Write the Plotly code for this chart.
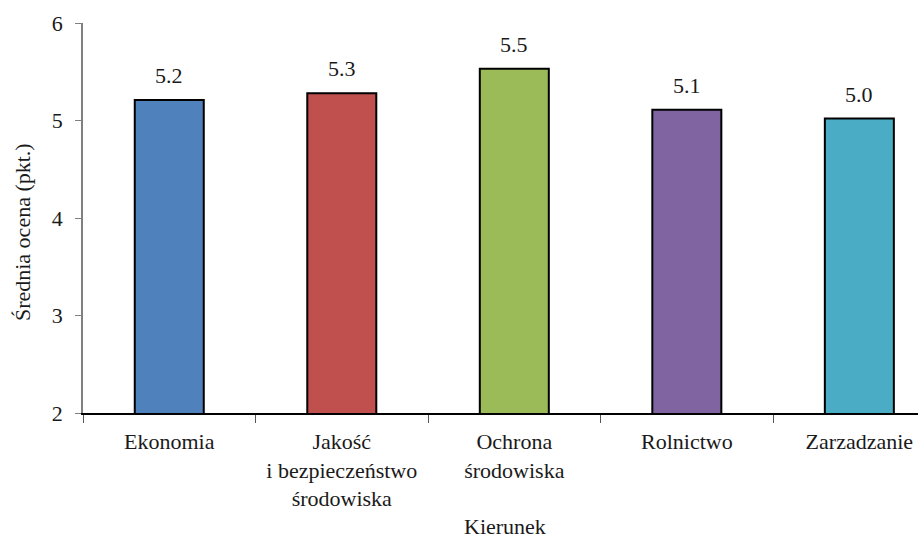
import plotly.graph_objects as go

categories = ["Ekonomia", "Jakość<br>i bezpieczeństwo<br>środowiska", "Ochrona<br>środowiska", "Rolnictwo", "Zarzadzanie"]
values = [5.21, 5.28, 5.53, 5.11, 5.02]
colors = ["#4F81BD", "#C0504D", "#9BBB59", "#8064A2", "#4BACC6"]
y_ticks = [2, 3, 4, 5, 6]

FONT = "Liberation Serif"
TXT = "#1a1a1a"

fig = go.Figure(go.Bar(
    x=categories, y=values,
    marker=dict(color=colors, line=dict(color="black", width=2)),
    width=0.4,
    cliponaxis=False,
    hoverinfo="x+y",
))

for c, v in zip(categories, values):
    fig.add_annotation(x=c, y=v, xref="x", yref="y", text=f"{v:.1f}",
                       showarrow=False, yanchor="bottom", yshift=10,
                       font=dict(family=FONT, size=22, color=TXT))

fig.add_annotation(text="Średnia ocena (pkt.)", xref="paper", yref="paper",
                   x=-0.073, y=0.464, xanchor="center", yanchor="middle",
                   textangle=-90, showarrow=False,
                   font=dict(family=FONT, size=22, color=TXT))
fig.add_annotation(text="Kierunek", xref="paper", yref="paper",
                   x=0.505, y=-0.29, xanchor="center", yanchor="middle",
                   showarrow=False,
                   font=dict(family=FONT, size=22, color=TXT))

fig.update_layout(
    width=918, height=539,
    margin=dict(l=83, r=0, t=23, b=126),
    plot_bgcolor="white", paper_bgcolor="white",
    font=dict(family=FONT, size=22, color=TXT),
    showlegend=False,
)
fig.update_xaxes(
    range=[-0.5, 4.34], automargin=False,
    showline=True, linecolor="black", linewidth=1.5,
    ticks="outside", tickson="boundaries", ticklen=8, tickcolor="#555",
    tickfont=dict(family=FONT, size=22, color=TXT),
    ticklabelstandoff=8,
    showgrid=False,
)
fig.update_yaxes(
    range=[2, 6], tickvals=y_ticks, automargin=False,
    showline=True, linecolor="#808080", linewidth=1.5,
    ticks="outside", ticklen=6, tickcolor="#808080",
    tickfont=dict(family=FONT, size=22, color=TXT),
    ticklabelstandoff=8,
    showgrid=False, zeroline=False,
)

fig.write_html("out.html", config={"displayModeBar": False},
               post_script="document.body.style.margin='0';")
